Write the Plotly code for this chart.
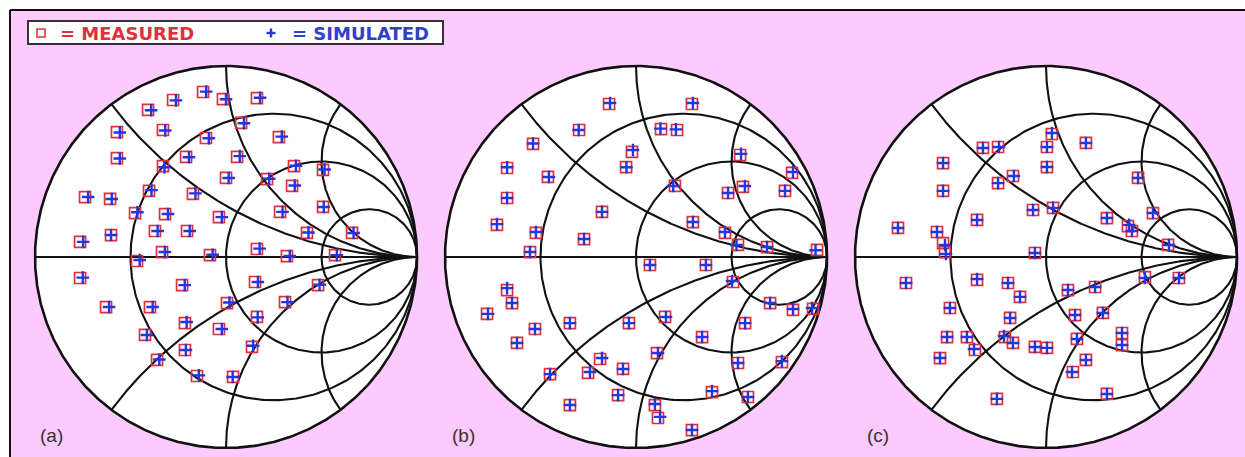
import numpy as np
import plotly.graph_objects as go

# ---- reflection coefficients (real, imaginary) for the three panels ----
meas_a_re = [-0.120, -0.277, -0.408, -0.016, 0.162, -0.571, -0.330, -0.105, 0.079, 0.277,
             -0.571, -0.209, 0.058, -0.330, 0.000, 0.215, 0.356, 0.508, 0.346, -0.738,
             -0.607, -0.403, -0.173, -0.476, -0.319, -0.037, 0.283, 0.508, -0.764, -0.602,
             -0.372, -0.204, 0.424, 0.660, -0.335, -0.084, 0.162, 0.319, 0.571, -0.466,
             -0.764, -0.230, 0.152, 0.482, -0.628, -0.398, 0.005, 0.309, -0.215, -0.037,
             0.162, -0.424, -0.215, 0.136, -0.361, -0.152, 0.037]
meas_a_im = [0.864, 0.822, 0.770, 0.827, 0.832, 0.654, 0.665, 0.623, 0.702, 0.628,
             0.518, 0.524, 0.524, 0.476, 0.414, 0.408, 0.476, 0.456, 0.372, 0.314,
             0.304, 0.346, 0.330, 0.230, 0.225, 0.209, 0.236, 0.262, 0.079, 0.115,
             0.136, 0.136, 0.126, 0.126, 0.026, 0.010, 0.042, 0.005, 0.010, -0.021,
             -0.110, -0.147, -0.131, -0.147, -0.262, -0.262, -0.241, -0.236, -0.346, -0.377,
             -0.314, -0.408, -0.487, -0.471, -0.539, -0.623, -0.628]
sim_a_re = [-0.104, -0.262, -0.392, 0.000, 0.178, -0.556, -0.318, -0.090, 0.094, 0.292,
            -0.556, -0.194, 0.072, -0.322, 0.014, 0.226, 0.366, 0.516, 0.360, -0.722,
            -0.598, -0.390, -0.160, -0.464, -0.304, -0.022, 0.296, 0.512, -0.748, -0.602,
            -0.358, -0.190, 0.432, 0.668, -0.320, -0.070, 0.176, 0.334, 0.580, -0.452,
            -0.750, -0.216, 0.167, 0.490, -0.612, -0.384, 0.018, 0.322, -0.206, -0.022,
            0.166, -0.414, -0.210, 0.142, -0.349, -0.142, 0.035]
sim_a_im = [0.866, 0.820, 0.768, 0.826, 0.834, 0.652, 0.662, 0.622, 0.700, 0.630,
            0.516, 0.522, 0.528, 0.470, 0.414, 0.410, 0.478, 0.458, 0.374, 0.314,
            0.304, 0.350, 0.333, 0.234, 0.225, 0.209, 0.236, 0.262, 0.079, 0.115,
            0.136, 0.136, 0.128, 0.126, 0.026, 0.012, 0.044, 0.005, 0.010, -0.016,
            -0.108, -0.147, -0.131, -0.145, -0.262, -0.262, -0.238, -0.236, -0.340, -0.377,
            -0.316, -0.408, -0.487, -0.465, -0.537, -0.620, -0.628]

meas_b_re = [-0.141, 0.293, -0.298, 0.131, 0.215, -0.539, -0.021, -0.052, -0.675, -0.461,
             0.545, 0.817, 0.204, 0.482, 0.560, 0.780, -0.675, -0.178, -0.728, -0.524,
             -0.272, 0.298, 0.466, 0.534, 0.686, 0.948, -0.555, 0.073, 0.366, 0.508,
             -0.675, -0.649, -0.780, 0.702, 0.822, 0.927, -0.346, -0.037, 0.152, 0.571,
             -0.529, -0.623, 0.346, 0.110, -0.188, -0.251, -0.068, -0.450, 0.534, 0.764,
             -0.094, 0.398, 0.586, -0.346, 0.099, 0.115, 0.293]
meas_b_im = [0.801, 0.801, 0.665, 0.670, 0.665, 0.592, 0.550, 0.471, 0.466, 0.419,
             0.534, 0.440, 0.372, 0.335, 0.367, 0.346, 0.309, 0.236, 0.168, 0.126,
             0.094, 0.183, 0.126, 0.063, 0.052, 0.037, 0.026, -0.042, -0.042, -0.131,
             -0.173, -0.241, -0.298, -0.241, -0.277, -0.272, -0.346, -0.346, -0.314, -0.346,
             -0.377, -0.450, -0.419, -0.503, -0.534, -0.607, -0.586, -0.613, -0.555, -0.550,
             -0.723, -0.707, -0.733, -0.775, -0.775, -0.843, -0.906]
sim_b_re = [-0.136, 0.298, -0.300, 0.128, 0.209, -0.539, -0.016, -0.050, -0.675, -0.456,
            0.550, 0.822, 0.195, 0.482, 0.570, 0.780, -0.675, -0.178, -0.728, -0.524,
            -0.272, 0.298, 0.466, 0.526, 0.686, 0.940, -0.555, 0.073, 0.366, 0.503,
            -0.675, -0.649, -0.775, 0.702, 0.822, 0.922, -0.346, -0.037, 0.157, 0.571,
            -0.529, -0.623, 0.346, 0.115, -0.178, -0.241, -0.068, -0.450, 0.534, 0.764,
            -0.094, 0.398, 0.586, -0.346, 0.099, 0.126, 0.293]
sim_b_im = [0.806, 0.806, 0.665, 0.672, 0.668, 0.594, 0.560, 0.470, 0.470, 0.419,
            0.540, 0.445, 0.372, 0.335, 0.372, 0.346, 0.309, 0.236, 0.172, 0.131,
            0.094, 0.183, 0.131, 0.063, 0.052, 0.035, 0.026, -0.042, -0.042, -0.126,
            -0.163, -0.241, -0.298, -0.241, -0.272, -0.267, -0.346, -0.346, -0.314, -0.346,
            -0.377, -0.450, -0.419, -0.503, -0.529, -0.602, -0.586, -0.613, -0.555, -0.545,
            -0.723, -0.702, -0.733, -0.775, -0.770, -0.837, -0.906]

meas_c_re = [0.031, 0.005, 0.209, -0.330, -0.251, -0.539, 0.005, -0.539, -0.251, -0.173,
             0.482, -0.361, -0.068, 0.037, 0.319, 0.429, 0.560, -0.775, -0.571, -0.539,
             0.639, -0.058, -0.529, -0.733, -0.361, -0.199, -0.136, 0.115, 0.257, 0.518,
             0.696, -0.503, -0.188, 0.152, 0.298, 0.398, 0.398, -0.518, -0.414, -0.372,
             -0.215, -0.173, -0.058, 0.005, 0.162, 0.209, 0.141, -0.555, -0.257, 0.319,
             0.450]
meas_c_im = [0.644, 0.576, 0.597, 0.571, 0.576, 0.492, 0.471, 0.346, 0.387, 0.424,
             0.414, 0.194, 0.246, 0.257, 0.204, 0.162, 0.230, 0.152, 0.131, 0.073,
             0.063, 0.021, 0.026, -0.136, -0.120, -0.136, -0.209, -0.173, -0.157, -0.105,
             -0.110, -0.267, -0.319, -0.304, -0.293, -0.398, -0.461, -0.419, -0.419, -0.487,
             -0.419, -0.450, -0.471, -0.476, -0.429, -0.539, -0.602, -0.529, -0.743, -0.717,
             0.136]
sim_c_re = [0.031, 0.005, 0.209, -0.330, -0.246, -0.539, 0.005, -0.539, -0.251, -0.168,
            0.482, -0.361, -0.068, 0.037, 0.319, 0.435, 0.560, -0.775, -0.571, -0.529,
            0.644, -0.058, -0.524, -0.733, -0.361, -0.199, -0.136, 0.115, 0.257, 0.518,
            0.696, -0.503, -0.188, 0.152, 0.298, 0.398, 0.398, -0.518, -0.414, -0.377,
            -0.220, -0.173, -0.058, 0.005, 0.162, 0.209, 0.136, -0.555, -0.257, 0.319,
            0.450]
sim_c_im = [0.649, 0.576, 0.597, 0.571, 0.576, 0.492, 0.471, 0.346, 0.387, 0.424,
            0.414, 0.194, 0.246, 0.257, 0.204, 0.168, 0.230, 0.152, 0.131, 0.063,
            0.063, 0.021, 0.016, -0.136, -0.115, -0.136, -0.209, -0.173, -0.157, -0.110,
            -0.110, -0.267, -0.319, -0.304, -0.293, -0.398, -0.461, -0.419, -0.419, -0.482,
            -0.414, -0.450, -0.471, -0.476, -0.429, -0.539, -0.602, -0.529, -0.743, -0.717,
            0.136]

panel_labels = ["(a)", "(b)", "(c)"]
resistance_circles = [1 / 3, 1.0, 3.0]
reactance_arcs = [0.5, 1.0, 2.0, -0.5, -1.0, -2.0]

panels = [
    (meas_a_re, meas_a_im, sim_a_re, sim_a_im),
    (meas_b_re, meas_b_im, sim_b_re, sim_b_im),
    (meas_c_re, meas_c_im, sim_c_re, sim_c_im),
]

# ---- page geometry (pixels) ----
W, H = 1245, 457
R_PX = 191          # Smith chart radius
CY_PX = 257         # chart centre row (from top)
CX_PX = [226, 636, 1046]
HALF = 198          # half width of each panel's axis domain

PINK = "#FDCAFD"
RED = "#E0303C"
BLUE = "#2535E0"
GRID = "#111111"


def smith_grid():
    xs, ys = [], []
    # real axis
    xs += [-1, 1, None]
    ys += [0, 0, None]
    th = np.linspace(0, 2 * np.pi, 361)
    for r in resistance_circles:
        c, rad = r / (1 + r), 1 / (1 + r)
        xs += list(c + rad * np.cos(th)) + [None]
        ys += list(rad * np.sin(th)) + [None]
    t = np.linspace(0, np.pi / 2 * 0.9995, 600)
    rr = np.tan(t)
    for x in reactance_arcs:
        z = rr + 1j * x
        g = (z - 1) / (z + 1)
        xs += list(g.real) + [1, None]
        ys += list(g.imag) + [0, None]
    return xs, ys


gx, gy = smith_grid()
th = np.linspace(0, 2 * np.pi, 721)
bx, by = np.cos(th), np.sin(th)

fig = go.Figure()
layout_axes = {}
for k, cx in enumerate(CX_PX):
    sfx = "" if k == 0 else str(k + 1)
    xa, ya = "x" + sfx, "y" + sfx
    layout_axes["xaxis" + sfx] = dict(
        domain=[(cx - HALF) / W, (cx + HALF) / W],
        range=[-HALF / R_PX, HALF / R_PX],
        visible=False, anchor=ya, fixedrange=True)
    layout_axes["yaxis" + sfx] = dict(
        domain=[0, 1],
        range=[-(H - CY_PX) / R_PX, CY_PX / R_PX],
        visible=False, anchor=xa, fixedrange=True)

    mre, mim, sre, sim = panels[k]
    # white chart face with outer boundary
    fig.add_trace(go.Scatter(x=bx, y=by, mode="lines", fill="toself",
                             fillcolor="white", line=dict(color=GRID, width=2.6),
                             hoverinfo="skip", xaxis=xa, yaxis=ya))
    # resistance / reactance grid
    fig.add_trace(go.Scatter(x=gx, y=gy, mode="lines",
                             line=dict(color=GRID, width=2.1),
                             hoverinfo="skip", xaxis=xa, yaxis=ya))
    # measured data
    fig.add_trace(go.Scatter(x=mre, y=mim, mode="markers", name="MEASURED",
                             marker=dict(symbol="square-open", size=11, color=RED,
                                         line=dict(width=1.7, color=RED)),
                             cliponaxis=False, xaxis=xa, yaxis=ya))
    # simulated data
    fig.add_trace(go.Scatter(x=sre, y=sim, mode="markers", name="SIMULATED",
                             marker=dict(symbol="cross-thin-open", size=9, color=BLUE,
                                         line=dict(width=2.4, color=BLUE)),
                             cliponaxis=False, xaxis=xa, yaxis=ya))


def px(x):
    return x / W


def py(y):
    return 1 - y / H


shapes = [
    # white outer strips and the frame lines
    dict(type="rect", xref="paper", yref="paper", x0=0, x1=1, y0=py(10), y1=1,
         fillcolor="white", line=dict(width=0), layer="below"),
    dict(type="rect", xref="paper", yref="paper", x0=0, x1=px(10), y0=0, y1=1,
         fillcolor="white", line=dict(width=0), layer="below"),
    dict(type="line", xref="paper", yref="paper", x0=px(10), x1=1, y0=py(10), y1=py(10),
         line=dict(color="#111", width=2)),
    dict(type="line", xref="paper", yref="paper", x0=px(10), x1=px(10), y0=0, y1=py(10),
         line=dict(color="#111", width=2)),
    # legend box
    dict(type="rect", xref="paper", yref="paper", x0=px(28), x1=px(443),
         y0=py(44), y1=py(21), fillcolor="white", line=dict(color="#333", width=2)),
    dict(type="rect", xref="paper", yref="paper", x0=px(37), x1=px(45),
         y0=py(37), y1=py(29), line=dict(color=RED, width=1.6)),
    dict(type="line", xref="paper", yref="paper", x0=px(266.5), x1=px(275.5),
         y0=py(33), y1=py(33), line=dict(color=BLUE, width=2.4)),
    dict(type="line", xref="paper", yref="paper", x0=px(271), x1=px(271),
         y0=py(28.5), y1=py(37.5), line=dict(color=BLUE, width=2.4)),
]

annotations = [
    dict(text="= MEASURED", x=px(58), y=py(33), xref="paper", yref="paper",
         xanchor="left", yanchor="middle", showarrow=False,
         font=dict(family="DejaVu Sans", size=18, color=RED, weight="bold")),
    dict(text="= SIMULATED", x=px(290), y=py(33), xref="paper", yref="paper",
         xanchor="left", yanchor="middle", showarrow=False,
         font=dict(family="DejaVu Sans", size=18, color="#3040C8", weight="bold")),
]
for lab, cx in zip(panel_labels, [51, 463, 878]):
    annotations.append(dict(text=lab, x=px(cx), y=py(435), xref="paper", yref="paper",
                            xanchor="center", yanchor="middle", showarrow=False,
                            font=dict(family="Liberation Sans", size=19, color="#333")))

fig.update_layout(
    width=W, height=H, autosize=False,
    margin=dict(l=0, r=0, t=0, b=0),
    paper_bgcolor=PINK, plot_bgcolor="rgba(0,0,0,0)",
    showlegend=False,
    shapes=shapes, annotations=annotations,
    **layout_axes,
)

fig.write_html("out.html")
